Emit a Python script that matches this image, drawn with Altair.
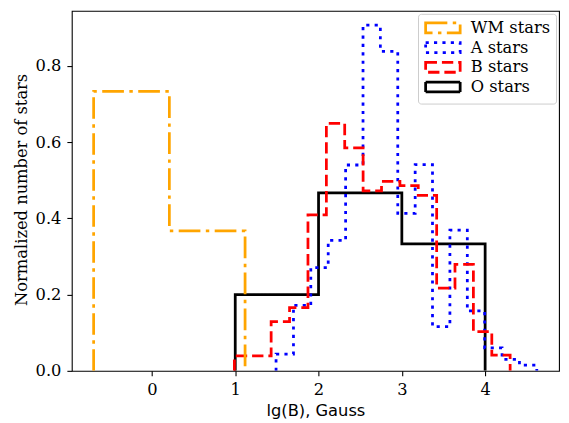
import altair as alt
import pandas as pd

series_names = ["WM stars", "A stars", "B stars", "O stars"]
series_colors = ["orange", "blue", "red", "black"]
series_dashes = [[22, 5.5, 3.5, 5.5], [3.2, 5.3], [11.5, 5.0], [1, 0]]

wm_edges = [-0.70, 0.209, 1.118]
wm_vals = [0.733, 0.367]

a_edges = [1.490, 1.699, 1.907, 2.116, 2.325, 2.534, 2.742, 2.951, 3.160,
           3.368, 3.577, 3.786, 3.994, 4.203, 4.412, 4.620]
a_vals = [0.044, 0.172, 0.271, 0.342, 0.540, 0.907, 0.838, 0.413, 0.541,
          0.116, 0.369, 0.157, 0.060, 0.030, 0.015]

b_edges = [0.990, 1.211, 1.431, 1.652, 1.873, 2.094, 2.314, 2.535, 2.756,
           2.977, 3.197, 3.418, 3.638, 3.859, 4.080, 4.300]
b_vals = [0.039, 0.039, 0.129, 0.166, 0.409, 0.649, 0.585, 0.472, 0.497,
          0.486, 0.460, 0.217, 0.279, 0.103, 0.041]

o_edges = [1.0, 2.0, 3.0, 4.0]
o_vals = [0.200, 0.467, 0.333]

x_ticks = [0, 1, 2, 3, 4]
y_ticks = [0.0, 0.2, 0.4, 0.6, 0.8]


def step_rows(name, edges, vals):
    rows = [(edges[0], 0.0)]
    for i, v in enumerate(vals):
        rows.append((edges[i], v))
        rows.append((edges[i + 1], v))
    rows.append((edges[-1], 0.0))
    return [{"series": name, "x": x, "y": y, "idx": k} for k, (x, y) in enumerate(rows)]


records = []
records += step_rows("O stars", o_edges, o_vals)
records += step_rows("A stars", a_edges, a_vals)
records += step_rows("B stars", b_edges, b_vals)
records += step_rows("WM stars", wm_edges, wm_vals)
df = pd.DataFrame(records)

FS = 16.5

legend = alt.Legend(
    title=None,
    orient="none",
    legendX=351,
    legendY=3,
    padding=6,
    rowPadding=-2,
    symbolType="M-3.5,-1L3.5,-1L3.5,1L-3.5,1Z",
    symbolSize=100,
    symbolOffset=11,
    symbolStrokeWidth=2.8,
    symbolFillColor="transparent",
    labelOffset=20,
    labelFont="DejaVu Serif",
    labelFontSize=FS,
    labelColor="black",
    labelLimit=300,
    strokeColor="#cccccc",
    fillColor="white",
    cornerRadius=3,
)

chart = alt.Chart(df).mark_line(
    strokeWidth=2.8, strokeCap="butt", strokeJoin="miter", clip=True
).encode(
    x=alt.X("x:Q",
            scale=alt.Scale(domain=[-0.962, 4.887], nice=False, zero=False),
            axis=alt.Axis(values=x_ticks, format="d", title="lg(B), Gauss",
                          titleFont="DejaVu Sans", titleY=40,
                          titleBaseline="middle", labelPadding=6)),
    y=alt.Y("y:Q",
            scale=alt.Scale(domain=[0, 0.9444], nice=False, zero=False),
            axis=alt.Axis(values=y_ticks, format=".1f",
                          title="Normalized number of stars",
                          titleX=-51, titleY=181, titleBaseline="middle",
                          titleAlign="center", labelPadding=6)),
    color=alt.Color("series:N",
                    scale=alt.Scale(domain=series_names, range=series_colors),
                    legend=legend),
    strokeDash=alt.StrokeDash("series:N",
                              scale=alt.Scale(domain=series_names, range=series_dashes),
                              legend=legend),
    detail="series:N",
    order="idx:Q",
).properties(
    width=494,
    height=365,
    autosize=alt.AutoSizeParams(type="none"),
    padding={"left": 64.7, "top": 0, "right": 2, "bottom": 50},
).configure_view(
    stroke="black", strokeWidth=1.1
).configure_axis(
    grid=False,
    domain=False,
    ticks=True,
    tickSize=5,
    tickColor="black",
    tickWidth=1.1,
    labelFont="DejaVu Serif",
    labelFontSize=FS,
    labelColor="black",
    titleFont="DejaVu Serif",
    titleFontSize=FS,
    titleFontWeight="normal",
    titleColor="black",
)

chart.save("out.html", embed_options={"renderer": "svg", "actions": False})
